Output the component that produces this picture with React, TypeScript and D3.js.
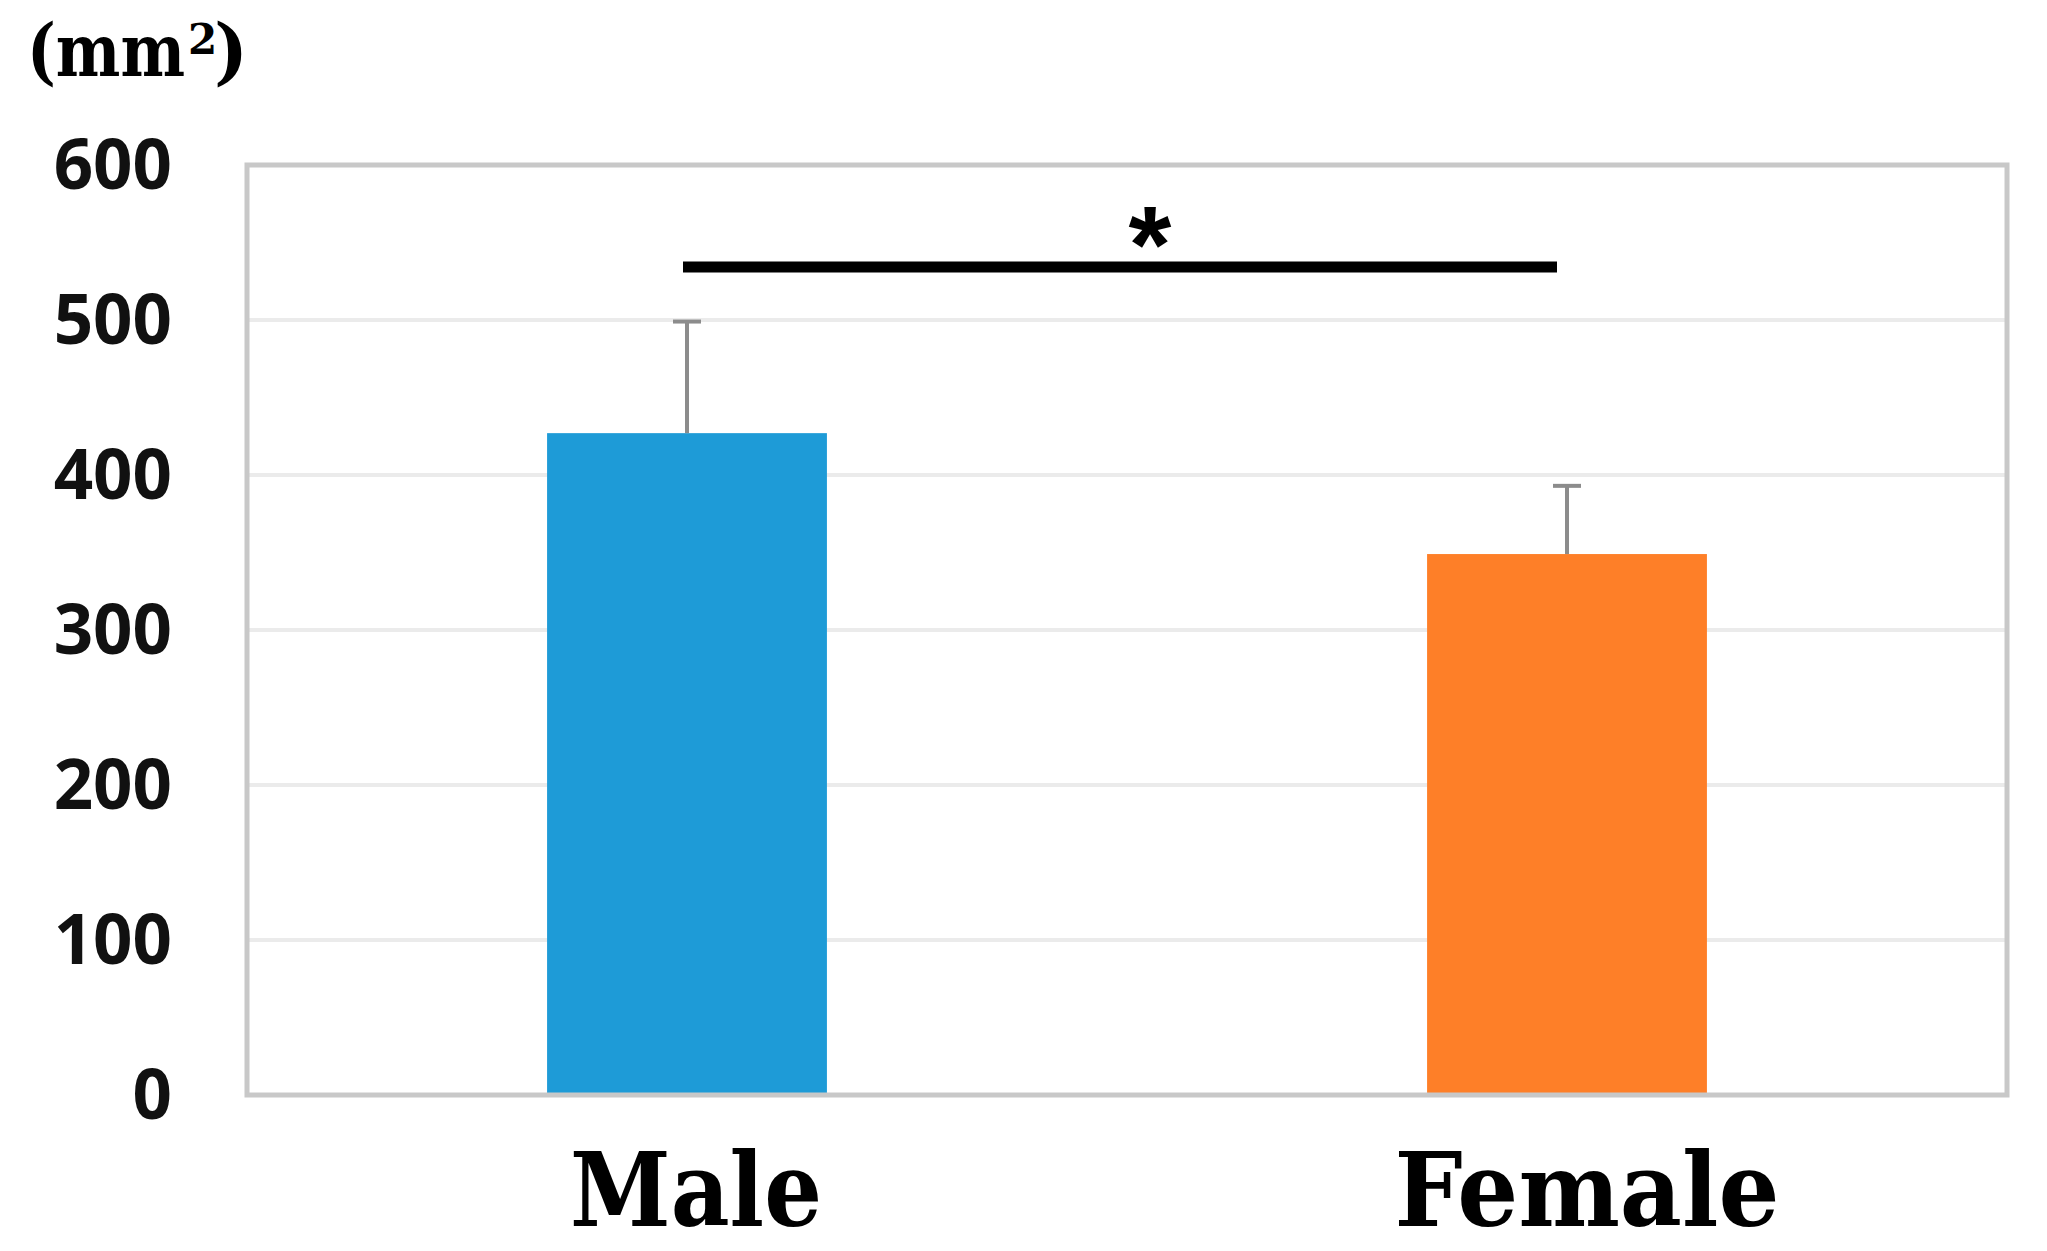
import React from "react";
import * as d3 from "d3";

const categories = ["Male", "Female"];
const means = [427, 349];
const errors = [72, 44];
const yTicks = [0, 100, 200, 300, 400, 500, 600];
const barColors = ["#1e9bd7", "#fe7f28"];
const yUnit = "(mm";
const yUnitSup = "2";
const yUnitClose = ")";
const significance = { from: "Male", to: "Female", label: "*" };

const W = 2047;
const H = 1251;
const left = 247;
const right = 2007;
const top = 165;
const bottom = 1095;

export default function App() {
  const x = d3
    .scaleBand<string>()
    .domain(categories)
    .range([left, right])
    .paddingInner(0.682)
    .paddingOuter(0.341);
  const y = d3.scaleLinear().domain([0, 600]).range([bottom, top]);
  const bw = x.bandwidth();
  const capW = 28;
  const labelWidths = [252, 385];
  const labelOffsets = [9, 20];

  const sx1 = x(significance.from)! + bw / 2 - 4;
  const sx2 = x(significance.to)! + bw / 2 - 10;

  return (
    <svg width={W} height={H} style={{ position: "absolute", left: 0, top: 0, background: "#fff" }}>
      <rect x={0} y={0} width={W} height={H} fill="#fff" />
      {yTicks.map((t) => (
        <line key={"g" + t} x1={left} x2={right} y1={y(t)} y2={y(t)} stroke="#ebebeb" strokeWidth={4} />
      ))}
      {categories.map((c, i) => (
        <rect key={c} x={x(c)!} y={y(means[i])} width={bw} height={y(0) - y(means[i])} fill={barColors[i]} />
      ))}
      {categories.map((c, i) => {
        const cx = x(c)! + bw / 2;
        return (
          <g key={"e" + c} stroke="#8c8c8c" strokeWidth={4}>
            <line x1={cx} x2={cx} y1={y(means[i])} y2={y(means[i] + errors[i])} />
            <line x1={cx - capW / 2} x2={cx + capW / 2} y1={y(means[i] + errors[i])} y2={y(means[i] + errors[i])} />
          </g>
        );
      })}
      <rect x={left} y={top} width={right - left} height={bottom - top} fill="none" stroke="#c8c8c8" strokeWidth={5} />
      {yTicks.map((t) => (
        <text
          key={"t" + t}
          x={172}
          y={y(t) + 24}
          textAnchor="end"
          fontFamily="'Open Sans', sans-serif"
          fontWeight={700}
          fontSize={69}
          fill="#111"
        >
          {t}
        </text>
      ))}
      {categories.map((c, i) => (
        <text
          key={"l" + c}
          x={x(c)! + bw / 2 + labelOffsets[i]}
          y={1226}
          textAnchor="middle"
          fontFamily="'DejaVu Serif', serif"
          fontWeight="bold"
          fontSize={102}
          textLength={labelWidths[i]}
          lengthAdjust="spacingAndGlyphs"
          fill="#000"
        >
          {c}
        </text>
      ))}
      <text
        x={27}
        y={76}
        fontFamily="'DejaVu Serif', serif"
        fontWeight="bold"
        fontSize={72}
        fill="#000"
        textLength={158}
        lengthAdjust="spacingAndGlyphs"
      >
        {yUnit}
      </text>
      <text x={188} y={54} fontFamily="'DejaVu Serif', serif" fontWeight="bold" fontSize={42} fill="#000">
        {yUnitSup}
      </text>
      <text x={214} y={76} fontFamily="'DejaVu Serif', serif" fontWeight="bold" fontSize={72} fill="#000">
        {yUnitClose}
      </text>
      <line x1={sx1} x2={sx2} y1={267} y2={267} stroke="#000" strokeWidth={11} />
      <text
        x={(sx1 + sx2) / 2 + 30}
        y={282}
        textAnchor="middle"
        fontFamily="'Liberation Sans', sans-serif"
        fontWeight="bold"
        fontSize={110}
        fill="#000"
      >
        {significance.label}
      </text>
    </svg>
  );
}
